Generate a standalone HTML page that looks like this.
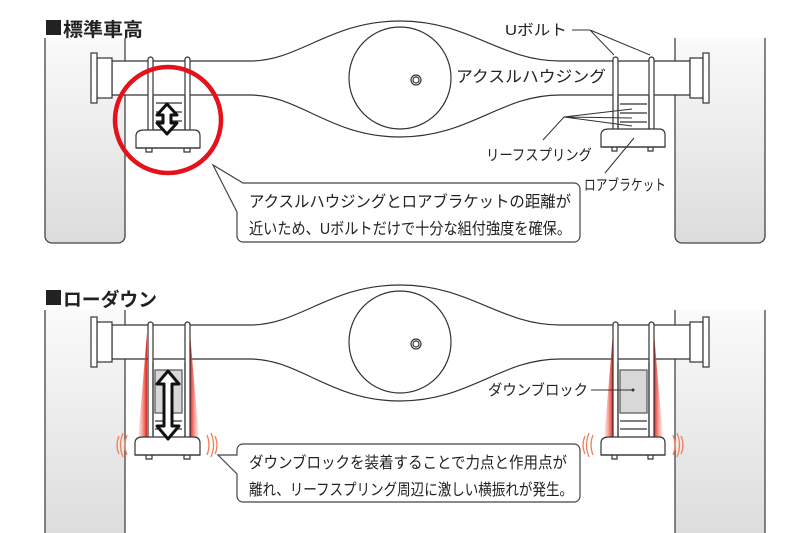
<!DOCTYPE html>
<html><head><meta charset="utf-8"><style>
html,body{margin:0;padding:0;background:#fff;width:800px;height:533px;overflow:hidden}
svg{display:block}
text{font-family:"Liberation Sans","Noto Sans CJK JP",sans-serif;fill:#222}
</style></head><body>
<svg width="800" height="533" viewBox="0 0 800 533" xmlns="http://www.w3.org/2000/svg">
<defs>
<linearGradient id="wg" x1="0" y1="0" x2="0" y2="1"><stop offset="0" stop-color="#fafafa"/><stop offset="1" stop-color="#dcdcdc"/></linearGradient>
<linearGradient id="rl" x1="0" y1="0" x2="1" y2="0"><stop offset="0" stop-color="#ff9a8a" stop-opacity="0.2"/><stop offset="1" stop-color="#e0201a"/></linearGradient>
<linearGradient id="rr" x1="1" y1="0" x2="0" y2="0"><stop offset="0" stop-color="#ff9a8a" stop-opacity="0.2"/><stop offset="1" stop-color="#e0201a"/></linearGradient>
</defs>
<!-- wheels -->
<rect x="45" y="38" width="80" height="205" rx="7" fill="url(#wg)"/>
<rect x="675" y="38" width="90" height="205" rx="7" fill="url(#wg)"/>
<rect x="45" y="310" width="80" height="230" fill="url(#wg)"/>
<rect x="675" y="310" width="90" height="230" fill="url(#wg)"/>
<g stroke="#444" stroke-width="1.3" fill="none">
<path d="M45 38 V236 a7 7 0 0 0 7 7 H118 a7 7 0 0 0 7-7 V38"/>
<path d="M675 38 V236 a7 7 0 0 0 7 7 H758 a7 7 0 0 0 7-7 V38"/>
<path d="M45 310 V533 M125 310 V533 M675 310 V533 M765 310 V533"/>
</g>
<!-- axle top -->
<g stroke="#333" stroke-width="1.2" fill="#fff">
<path d="M112 61 H250 C300 61 330 21 400 21 C470 21 500 61 560 61 H690 V95 H560 C500 95 470 137 400 137 C330 137 300 95 250 95 H112 Z"/>
<rect x="97" y="58" width="15" height="40"/><rect x="91" y="53" width="6" height="50"/>
<rect x="690" y="58" width="13" height="40"/><rect x="703" y="53" width="6" height="50"/>
<circle cx="400" cy="78" r="51"/>
<circle cx="416" cy="80" r="5"/><circle cx="416" cy="80" r="3"/>
</g>
<g stroke="#333" stroke-width="1.2" fill="#fff">
<rect x="148" y="57" width="5" height="75" rx="2.5"/><rect x="185" y="57" width="5" height="75" rx="2.5"/>
<path d="M153 96 V130 H185 V96" fill="none"/>
<path d="M156 103 H182 M156 112 H182 M156 121 H182" fill="none"/>
<path d="M136 148 V136 Q136 130 144 130 H194 Q200 130 200 136 V148 Z"/>
<path d="M136 148 H200 M146 148 V152 H152 V148 M184 148 V152 H190 V148" fill="none"/>
<rect x="613" y="57" width="5" height="75" rx="2.5"/><rect x="649" y="57" width="5" height="75" rx="2.5"/>
<path d="M618 96 V130 H649 V96" fill="none"/>
<path d="M620 104 H647 M620 113 H647 M620 122 H647" fill="none"/>
<path d="M601 147 V135 Q601 129 609 129 H659 Q665 129 665 135 V147 Z"/>
<path d="M601 147 H665 M612 147 V151 H617 V147 M648 147 V151 H653 V147" fill="none"/>
</g>
<path d="M167 104 L177 115 H171 V123 H177 L167 134 L157 123 H163 V115 H157 Z" fill="#fff" stroke="#111" stroke-width="3" stroke-linejoin="round"/>
<circle cx="168" cy="120" r="53" fill="none" stroke="#e3131b" stroke-width="4.5"/>
<!-- callout top -->
<path d="M243 183 H574 a6 6 0 0 1 6 6 V236 a6 6 0 0 1-6 6 H243 a6 6 0 0 1-6-6 V212 L213 165 L243 183 Z" fill="#fff" stroke="#444" stroke-width="1.2"/>
<text x="249" y="207" font-size="16" textLength="322" lengthAdjust="spacingAndGlyphs">アクスルハウジングとロアブラケットの距離が</text>
<text x="249" y="234" font-size="16" textLength="322" lengthAdjust="spacingAndGlyphs">近いため、Uボルトだけで十分な組付強度を確保。</text>
<!-- labels top -->
<text x="505" y="35" font-size="15" textLength="62" lengthAdjust="spacingAndGlyphs">Uボルト</text>
<path d="M572 30 H590 L614 55 M590 30 L650 55" stroke="#333" fill="none" stroke-width="1"/>
<text x="456" y="82" font-size="16" textLength="150" lengthAdjust="spacingAndGlyphs">アクスルハウジング</text>
<text x="486" y="160" font-size="15" textLength="106" lengthAdjust="spacingAndGlyphs">リーフスプリング</text>
<path d="M543 140 L564 117 L632 109 M564 117 L632 118 M564 117 L632 126" stroke="#333" fill="none" stroke-width="1"/>
<text x="584" y="190" font-size="15" textLength="82" lengthAdjust="spacingAndGlyphs">ロアブラケット</text>
<path d="M605 173 L634 138" stroke="#333" fill="none" stroke-width="1"/>
<!-- headers -->
<rect x="46" y="20" width="15" height="15" fill="#222"/>
<text x="63" y="36" font-size="19" font-weight="bold" textLength="80" lengthAdjust="spacingAndGlyphs">標準車高</text>
<rect x="46" y="290" width="15" height="15" fill="#222"/>
<text x="63" y="306" font-size="19" font-weight="bold" textLength="94" lengthAdjust="spacingAndGlyphs">ローダウン</text>
<!-- axle bottom -->
<g transform="translate(0,264)" stroke="#333" stroke-width="1.2" fill="#fff">
<path d="M112 61 H250 C300 61 330 21 400 21 C470 21 500 61 560 61 H690 V95 H560 C500 95 470 137 400 137 C330 137 300 95 250 95 H112 Z"/>
<rect x="97" y="58" width="15" height="40"/><rect x="91" y="53" width="6" height="50"/>
<rect x="690" y="58" width="13" height="40"/><rect x="703" y="53" width="6" height="50"/>
<circle cx="400" cy="78" r="51"/>
<circle cx="416" cy="80" r="5"/><circle cx="416" cy="80" r="3"/>
</g>
<path d="M147 333 L138 440 H147 Z" fill="url(#rl)"/>
<path d="M190 333 L199 440 H190 Z" fill="url(#rr)"/>
<path d="M613 333 L604 440 H613 Z" fill="url(#rl)"/>
<path d="M654 333 L663 440 H654 Z" fill="url(#rr)"/>
<g stroke="#333" stroke-width="1.2" fill="#fff">
<rect x="148" y="322" width="5" height="118" rx="2.5"/><rect x="185" y="322" width="5" height="118" rx="2.5"/>
<path d="M153 362 V438 H185 V362" fill="none"/>
<rect x="155" y="370" width="27" height="43" fill="#d8d8d8" stroke="#555"/>
<path d="M155 421 H182 M155 429 H182" fill="none"/>
<path d="M135 455 V443 Q135 437 143 437 H193 Q200 437 200 443 V455 Z"/>
<path d="M135 455 H200 M146 455 V459 H152 V455 M184 455 V459 H190 V455" fill="none"/>
<rect x="613" y="322" width="5" height="118" rx="2.5"/><rect x="649" y="322" width="5" height="118" rx="2.5"/>
<path d="M618 362 V438 H649 V362" fill="none"/>
<rect x="620" y="370" width="27" height="43" fill="#d8d8d8" stroke="#555"/>
<path d="M620 421 H647 M620 429 H647" fill="none"/>
<path d="M601 455 V443 Q601 437 609 437 H659 Q665 437 665 443 V455 Z"/>
<path d="M601 455 H665 M612 455 V459 H617 V455 M648 455 V459 H653 V455" fill="none"/>
</g>
<path d="M168 371 L179 384 H172 V426 H179 L168 439 L157 426 H164 V384 H157 Z" fill="#fff" stroke="#111" stroke-width="3" stroke-linejoin="round"/>
<g fill="none" stroke="#f08060" stroke-width="1.3">
<path d="M127 435 q-4 10 0 20 M123 433 q-5 12 0 24 M119 436 q-4 9 0 18"/>
<path d="M207 435 q4 10 0 20 M211 433 q5 12 0 24 M215 436 q4 9 0 18"/>
<path d="M593 435 q-4 10 0 20 M589 433 q-5 12 0 24 M585 436 q-4 9 0 18"/>
<path d="M673 435 q4 10 0 20 M677 433 q5 12 0 24 M681 436 q4 9 0 18"/>
</g>
<text x="488" y="395" font-size="15" textLength="100" lengthAdjust="spacingAndGlyphs">ダウンブロック</text>
<path d="M591 390 H633" stroke="#333" stroke-width="1"/>
<circle cx="633" cy="390" r="1.5" fill="#333"/>
<!-- callout bottom -->
<path d="M243 444 H574 a6 6 0 0 1 6 6 V496 a6 6 0 0 1-6 6 H243 a6 6 0 0 1-6-6 V474 L218 455 L237 455 V450 a6 6 0 0 1 6-6 Z" fill="#fff" stroke="#444" stroke-width="1.2"/>
<text x="249" y="468" font-size="16" textLength="318" lengthAdjust="spacingAndGlyphs">ダウンブロックを装着することで力点と作用点が</text>
<text x="249" y="495" font-size="16" textLength="324" lengthAdjust="spacingAndGlyphs">離れ、リーフスプリング周辺に激しい横振れが発生。</text>
</svg>
</body></html>
